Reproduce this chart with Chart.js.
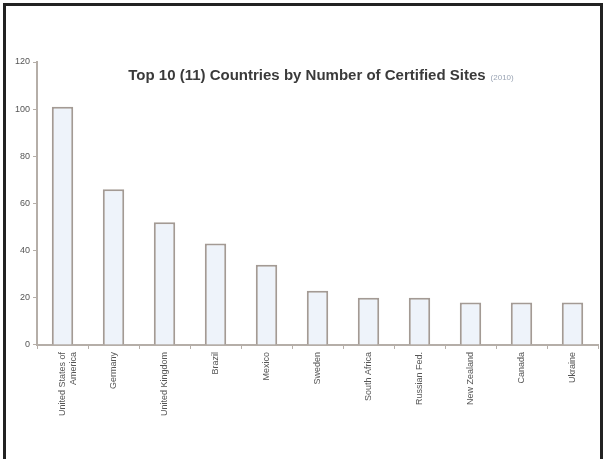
<!DOCTYPE html>
<html>
<head>
<meta charset="utf-8">
<script src="https://cdn.jsdelivr.net/npm/chart.js@4"></script>
<style>
  html, body { margin: 0; padding: 0; background: #fff; }
  .frame {
    position: absolute; left: 3px; top: 3px;
    width: 600px; height: 470px;
    border: 3px solid #222; box-sizing: border-box;
  }
  .wrap { position: absolute; left: 0; top: 0; width: 608px; height: 459px; }
</style>
</head>
<body>
<div class="frame"></div>
<div class="wrap"><canvas id="sites"></canvas></div>
<script>
// -- data
const countries = [
  ['United States of', 'America'],
  'Germany',
  'United Kingdom',
  'Brazil',
  'Mexico',
  'Sweden',
  'South Africa',
  'Russian Fed.',
  'New Zealand',
  'Canada',
  'Ukraine',
];
const siteCounts = [101, 66, 52, 43, 34, 23, 20, 20, 18, 18, 18];
const yTicks = [0, 20, 40, 60, 80, 100, 120];
const titleText = 'Top 10 (11) Countries by Number of Certified Sites';
const titleNote = '(2010)';
// --

// title drawn inside the plot area, with a small note after it
const titleInside = {
  id: 'titleInside',
  afterDraw(chart) {
    const { ctx, chartArea } = chart;
    ctx.save();
    ctx.font = 'bold 15px "Liberation Sans", Arial, sans-serif';
    const w1 = ctx.measureText(titleText).width;
    ctx.font = '8px "Liberation Sans", Arial, sans-serif';
    const w2 = ctx.measureText(titleNote).width;
    const x0 = 321 - (w1 + 5 + w2) / 2;
    const y = chartArea.top + 14;
    ctx.textBaseline = 'middle';
    ctx.fillStyle = '#3a3a3a';
    ctx.font = 'bold 15px "Liberation Sans", Arial, sans-serif';
    ctx.fillText(titleText, x0, y);
    ctx.fillStyle = '#9aa4b4';
    ctx.font = '8px "Liberation Sans", Arial, sans-serif';
    ctx.fillText(titleNote, x0 + w1 + 5, y + 2);
    ctx.restore();
  },
};

new Chart(document.getElementById('sites'), {
  type: 'bar',
  data: {
    labels: countries,
    datasets: [
      {
        label: 'Certified sites',
        data: siteCounts,
        backgroundColor: '#eef3fa',
        borderColor: '#a39a94',
        borderWidth: 2,
        barPercentage: 0.42,
        categoryPercentage: 1,
      },
    ],
  },
  options: {
    responsive: true,
    maintainAspectRatio: false,
    animation: false,
    layout: { padding: { top: 62, right: 10, left: 12, bottom: 40 } },
    plugins: {
      legend: { display: false },
      tooltip: { enabled: false },
    },
    scales: {
      x: {
        grid: { display: true, drawOnChartArea: false, color: '#b5aea8', tickLength: 4, offset: true },
        border: { color: '#b5aea8', width: 2 },
        ticks: {
          autoSkip: false,
          minRotation: 90,
          maxRotation: 90,
          color: '#555',
          font: { size: 9, family: '"Liberation Sans", Arial, sans-serif' },
        },
      },
      y: {
        min: 0,
        max: 120,
        afterBuildTicks: (axis) => {
          axis.ticks = yTicks.map((v) => ({ value: v }));
        },
        grid: { display: true, drawOnChartArea: false, color: '#b5aea8', tickLength: 4 },
        border: { color: '#b5aea8', width: 2 },
        ticks: {
          color: '#555',
          font: { size: 9, family: '"Liberation Sans", Arial, sans-serif' },
        },
      },
    },
  },
  plugins: [titleInside],
});
</script>
</body>
</html>
